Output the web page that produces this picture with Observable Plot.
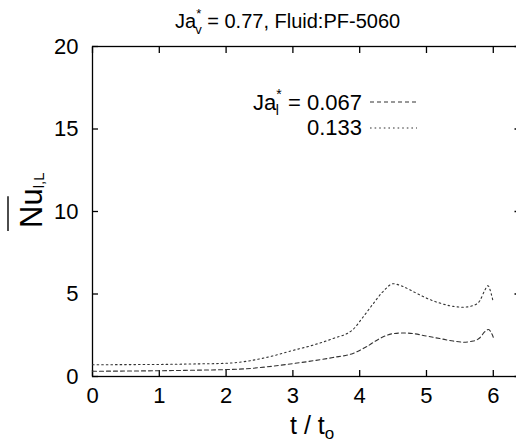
<!DOCTYPE html>
<html><head><meta charset="utf-8">
<script src="https://cdn.jsdelivr.net/npm/d3@7"></script>
<script src="https://cdn.jsdelivr.net/npm/@observablehq/plot@0.6"></script>
<style>
body{margin:0;background:#fff;overflow:hidden}
svg{font-family:"Liberation Sans",Arial,sans-serif}
</style>
</head><body><div id="chart"></div>
<script>
// Data
const t067  = [0,0.5,1,1.5,2,2.3,2.6,3,3.3,3.6,3.9,4.1,4.3,4.5,4.65,4.8,5,5.2,5.4,5.55,5.7,5.8,5.87,5.93,5.97,6.0];
const nu067 = [0.32,0.33,0.35,0.38,0.42,0.47,0.58,0.78,0.95,1.15,1.4,1.8,2.3,2.6,2.64,2.6,2.45,2.3,2.15,2.08,2.15,2.35,2.7,2.85,2.65,2.38];
const t133  = [0,0.5,1,1.5,2,2.3,2.6,3,3.3,3.6,3.9,4.05,4.2,4.35,4.5,4.65,4.8,5,5.2,5.4,5.55,5.7,5.8,5.87,5.92,5.97,6.0];
const nu133 = [0.71,0.72,0.73,0.76,0.8,0.92,1.15,1.58,1.9,2.3,2.85,3.6,4.4,5.15,5.62,5.45,5.15,4.75,4.45,4.25,4.2,4.3,4.6,5.2,5.5,5.0,4.5];
const xTicks = [0,1,2,3,4,5,6];
const yTicks = [0,5,10,15,20];
const seriesLabels = ["0.067","0.133"];

const d067 = t067.map((t,i)=>({t, nu: nu067[i]}));
const d133 = t133.map((t,i)=>({t, nu: nu133[i]}));
const dashes = {"0.067":"4,3","0.133":"1.6,3"};
const lineColor = "#333";

const plot = Plot.plot({
  width: 516, height: 445,
  marginLeft: 92, marginRight: -3.5, marginTop: 46, marginBottom: 69,
  style: {fontFamily: '"Liberation Sans", Arial, sans-serif', fontSize: "22px", background: "white", overflow: "hidden"},
  x: {domain: [0, 6.4]},
  y: {domain: [0, 20]},
  marks: [
    Plot.frame({stroke: "black", strokeWidth: 1.3}),
    Plot.axisX({anchor: "bottom", ticks: xTicks, tickSize: -6, tickPadding: 17, tickFormat: d3.format("d"), label: null, stroke: "black", strokeWidth: 1.3, fontSize: 22}),
    Plot.axisX({anchor: "top", ticks: xTicks, tickSize: -6, tickFormat: () => "", label: null, stroke: "black", strokeWidth: 1.3}),
    Plot.axisY({anchor: "left", ticks: yTicks, tickSize: -6, tickPadding: 20, tickFormat: d3.format("d"), label: null, stroke: "black", strokeWidth: 1.3, fontSize: 22}),
    Plot.axisY({anchor: "right", ticks: yTicks, tickSize: -6, tickFormat: () => "", label: null, stroke: "black", strokeWidth: 1.3}),
    Plot.line(d067, {x: "t", y: "nu", curve: "monotone-x", stroke: lineColor, strokeWidth: 1.1, strokeDasharray: dashes["0.067"]}),
    Plot.line(d133, {x: "t", y: "nu", curve: "monotone-x", stroke: lineColor, strokeWidth: 1.1, strokeDasharray: dashes["0.133"]})
  ]
});
document.getElementById("chart").appendChild(plot);

const svg = d3.select(plot);
const font = '"Liberation Sans", Arial, sans-serif';

// Title
const title = svg.append("text").attr("x", 175).attr("y", 28).attr("text-anchor", "start")
  .style("font-family", font).style("font-size", "20px").attr("fill", "black");
title.append("tspan").text("Ja");
title.append("tspan").attr("dy", -10).style("font-size", "13px").text("*");
title.append("tspan").attr("dx", -6).attr("dy", 16).style("font-size", "13px").text("v");
title.append("tspan").attr("dy", -6).text(" = 0.77, Fluid:PF-5060");

// Legend
const legY = [110, 135];
const leg0 = svg.append("text").attr("x", 362).attr("y", legY[0]).attr("text-anchor", "end")
  .style("font-family", font).style("font-size", "22px").attr("fill", "black");
leg0.append("tspan").text("Ja");
leg0.append("tspan").attr("dy", -11).style("font-size", "14px").text("*");
leg0.append("tspan").attr("dx", -6).attr("dy", 16).style("font-size", "14px").text("l");
leg0.append("tspan").attr("dx", 3).attr("dy", -5).text(" = " + seriesLabels[0]);
svg.append("text").attr("x", 362).attr("y", legY[1]).attr("text-anchor", "end")
  .style("font-family", font).style("font-size", "22px").attr("fill", "black").text(seriesLabels[1]);
const sampleY = [102, 128];
seriesLabels.forEach((s, i) => {
  svg.append("line").attr("x1", 370).attr("x2", 417).attr("y1", sampleY[i]).attr("y2", sampleY[i])
    .attr("stroke", lineColor).attr("stroke-width", 1.1).attr("stroke-dasharray", dashes[s]);
});

// X label
const xl = svg.append("text").attr("x", 290).attr("y", 434).attr("text-anchor", "start")
  .style("font-family", font).style("font-size", "25px").attr("fill", "black");
xl.append("tspan").text("t / t");
xl.append("tspan").attr("dy", 5).style("font-size", "17px").text("o");

// Y label with overline (rotated, reads bottom to top)
const yTr = "translate(42,228) rotate(-90)";
const yl = svg.append("text").attr("transform", yTr).attr("text-anchor", "start")
  .style("font-family", font).style("font-size", "31px").attr("fill", "black");
const nuSpan = yl.append("tspan").text("Nu");
yl.append("tspan").attr("dy", 2).style("font-size", "15px").text("l,L");
const nb = nuSpan.node().getComputedTextLength();
svg.append("line").attr("transform", yTr)
  .attr("x1", -3).attr("x2", nb - 8).attr("y1", -34).attr("y2", -34)
  .attr("stroke", "black").attr("stroke-width", 1.4);
</script>
</body></html>
